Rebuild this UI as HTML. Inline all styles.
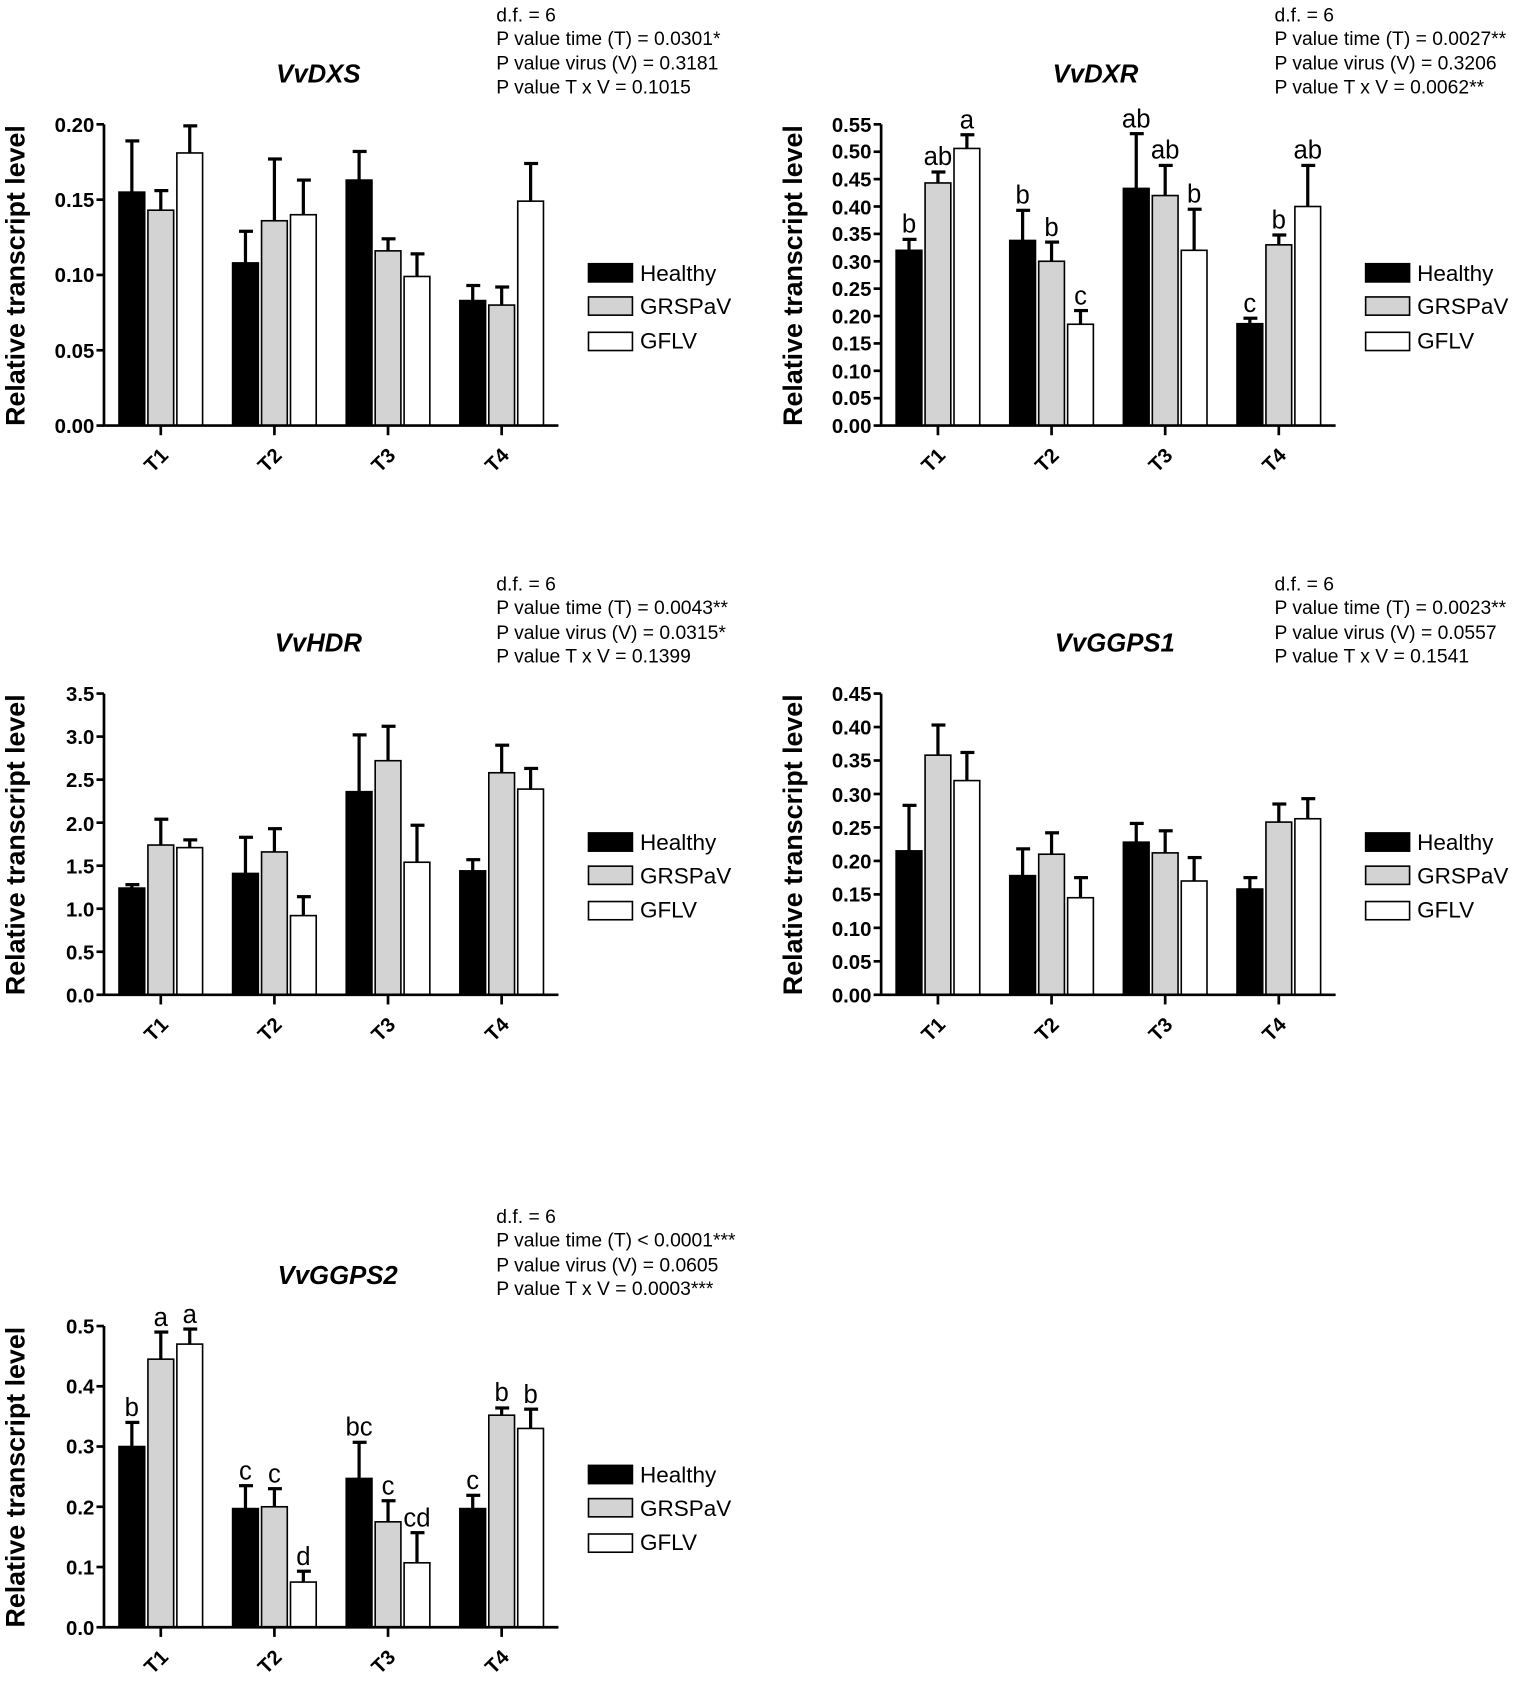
<!DOCTYPE html>
<html><head><meta charset="utf-8"><style>
html,body{margin:0;padding:0;background:#fff}
svg{display:block}
.t{font-family:"Liberation Sans",sans-serif;font-weight:bold;font-size:19px;text-anchor:end}
.yl{font-family:"Liberation Sans",sans-serif;font-weight:bold;font-size:25px;text-anchor:middle}
.ti{font-family:"Liberation Sans",sans-serif;font-weight:bold;font-style:italic;font-size:24px;text-anchor:middle}
.st{font-family:"Liberation Sans",sans-serif;font-size:18px}
.lg{font-family:"Liberation Sans",sans-serif;font-size:21px}
.xl{font-family:"Liberation Sans",sans-serif;font-weight:bold;font-size:19px;text-anchor:end}
.le{font-family:"Liberation Sans",sans-serif;font-size:24px;text-anchor:middle}
</style></head><body>
<svg id="s" width="1535" height="1683" viewBox="0 0 1432 1570" preserveAspectRatio="none" xmlns="http://www.w3.org/2000/svg">
<g id="bars"></g>

<!-- Panel 1 VvDXS -->
<text class="st" x="463" y="20">d.f. = 6</text>
<text class="st" x="463" y="42">P value time (T) = 0.0301*</text>
<text class="st" x="463" y="65">P value virus (V) = 0.3181</text>
<text class="st" x="463" y="87">P value T x V = 0.1015</text>
<text class="ti" x="297" y="77">VvDXS</text>
<text class="yl" transform="translate(23,257) rotate(-90)">Relative transcript level</text>
<text class="t" x="88" y="123">0.20</text><text class="t" x="88" y="193">0.15</text><text class="t" x="88" y="263">0.10</text><text class="t" x="88" y="334">0.05</text><text class="t" x="88" y="404">0.00</text>
<text class="xl" transform="translate(158,426) rotate(-45)">T1</text>
<text class="xl" transform="translate(264,426) rotate(-45)">T2</text>
<text class="xl" transform="translate(370,426) rotate(-45)">T3</text>
<text class="xl" transform="translate(476,426) rotate(-45)">T4</text>
<text class="lg" x="597" y="262">Healthy</text><text class="lg" x="597" y="293">GRSPaV</text><text class="lg" x="597" y="325">GFLV</text>

<!-- Panel 2 VvDXR -->
<text class="st" x="1189" y="20">d.f. = 6</text>
<text class="st" x="1189" y="42">P value time (T) = 0.0027**</text>
<text class="st" x="1189" y="65">P value virus (V) = 0.3206</text>
<text class="st" x="1189" y="87">P value T x V = 0.0062**</text>
<text class="ti" x="1022" y="77">VvDXR</text>
<text class="yl" transform="translate(748,257) rotate(-90)">Relative transcript level</text>
<text class="t" x="813" y="123">0.55</text><text class="t" x="813" y="148">0.50</text><text class="t" x="813" y="174">0.45</text><text class="t" x="813" y="200">0.40</text><text class="t" x="813" y="225">0.35</text><text class="t" x="813" y="251">0.30</text><text class="t" x="813" y="276">0.25</text><text class="t" x="813" y="302">0.20</text><text class="t" x="813" y="327">0.15</text><text class="t" x="813" y="353">0.10</text><text class="t" x="813" y="378">0.05</text><text class="t" x="813" y="404">0.00</text>
<text class="xl" transform="translate(883,426) rotate(-45)">T1</text>
<text class="xl" transform="translate(989,426) rotate(-45)">T2</text>
<text class="xl" transform="translate(1095,426) rotate(-45)">T3</text>
<text class="xl" transform="translate(1201,426) rotate(-45)">T4</text>
<text class="lg" x="1322" y="262">Healthy</text><text class="lg" x="1322" y="293">GRSPaV</text><text class="lg" x="1322" y="325">GFLV</text>
<text class="le" x="848" y="217">b</text><text class="le" x="875" y="154">ab</text><text class="le" x="902" y="120">a</text>
<text class="le" x="954" y="190">b</text><text class="le" x="981" y="220">b</text><text class="le" x="1008" y="284">c</text>
<text class="le" x="1060" y="119">ab</text><text class="le" x="1087" y="148">ab</text><text class="le" x="1114" y="189">b</text>
<text class="le" x="1166" y="291">c</text><text class="le" x="1193" y="213">b</text><text class="le" x="1220" y="148">ab</text>

<!-- Panel 3 VvHDR -->
<text class="st" x="463" y="551">d.f. = 6</text>
<text class="st" x="463" y="573">P value time (T) = 0.0043**</text>
<text class="st" x="463" y="596">P value virus (V) = 0.0315*</text>
<text class="st" x="463" y="618">P value T x V = 0.1399</text>
<text class="ti" x="297" y="608">VvHDR</text>
<text class="yl" transform="translate(23,788) rotate(-90)">Relative transcript level</text>
<text class="t" x="88" y="654">3.5</text><text class="t" x="88" y="694">3.0</text><text class="t" x="88" y="734">2.5</text><text class="t" x="88" y="775">2.0</text><text class="t" x="88" y="815">1.5</text><text class="t" x="88" y="855">1.0</text><text class="t" x="88" y="895">0.5</text><text class="t" x="88" y="935">0.0</text>
<text class="xl" transform="translate(158,957) rotate(-45)">T1</text>
<text class="xl" transform="translate(264,957) rotate(-45)">T2</text>
<text class="xl" transform="translate(370,957) rotate(-45)">T3</text>
<text class="xl" transform="translate(476,957) rotate(-45)">T4</text>
<text class="lg" x="597" y="793">Healthy</text><text class="lg" x="597" y="824">GRSPaV</text><text class="lg" x="597" y="856">GFLV</text>

<!-- Panel 4 VvGGPS1 -->
<text class="st" x="1189" y="551">d.f. = 6</text>
<text class="st" x="1189" y="573">P value time (T) = 0.0023**</text>
<text class="st" x="1189" y="596">P value virus (V) = 0.0557</text>
<text class="st" x="1189" y="618">P value T x V = 0.1541</text>
<text class="ti" x="1040" y="608">VvGGPS1</text>
<text class="yl" transform="translate(748,788) rotate(-90)">Relative transcript level</text>
<text class="t" x="813" y="654">0.45</text><text class="t" x="813" y="685">0.40</text><text class="t" x="813" y="716">0.35</text><text class="t" x="813" y="748">0.30</text><text class="t" x="813" y="779">0.25</text><text class="t" x="813" y="810">0.20</text><text class="t" x="813" y="841">0.15</text><text class="t" x="813" y="873">0.10</text><text class="t" x="813" y="904">0.05</text><text class="t" x="813" y="935">0.00</text>
<text class="xl" transform="translate(883,957) rotate(-45)">T1</text>
<text class="xl" transform="translate(989,957) rotate(-45)">T2</text>
<text class="xl" transform="translate(1095,957) rotate(-45)">T3</text>
<text class="xl" transform="translate(1201,957) rotate(-45)">T4</text>
<text class="lg" x="1322" y="793">Healthy</text><text class="lg" x="1322" y="824">GRSPaV</text><text class="lg" x="1322" y="856">GFLV</text>

<!-- Panel 5 VvGGPS2 -->
<text class="st" x="463" y="1141">d.f. = 6</text>
<text class="st" x="463" y="1163">P value time (T) &lt; 0.0001***</text>
<text class="st" x="463" y="1186">P value virus (V) = 0.0605</text>
<text class="st" x="463" y="1208">P value T x V = 0.0003***</text>
<text class="ti" x="315" y="1198">VvGGPS2</text>
<text class="yl" transform="translate(23,1378) rotate(-90)">Relative transcript level</text>
<text class="t" x="88" y="1244">0.5</text><text class="t" x="88" y="1300">0.4</text><text class="t" x="88" y="1356">0.3</text><text class="t" x="88" y="1413">0.2</text><text class="t" x="88" y="1469">0.1</text><text class="t" x="88" y="1525">0.0</text>
<text class="xl" transform="translate(158,1547) rotate(-45)">T1</text>
<text class="xl" transform="translate(264,1547) rotate(-45)">T2</text>
<text class="xl" transform="translate(370,1547) rotate(-45)">T3</text>
<text class="xl" transform="translate(476,1547) rotate(-45)">T4</text>
<text class="lg" x="597" y="1383">Healthy</text><text class="lg" x="597" y="1414">GRSPaV</text><text class="lg" x="597" y="1446">GFLV</text>
<text class="le" x="123" y="1321">b</text><text class="le" x="150" y="1237">a</text><text class="le" x="177" y="1234">a</text>
<text class="le" x="229" y="1380">c</text><text class="le" x="256" y="1383">c</text><text class="le" x="283" y="1460">d</text>
<text class="le" x="335" y="1339">bc</text><text class="le" x="362" y="1394">c</text><text class="le" x="389" y="1424">cd</text>
<text class="le" x="441" y="1389">c</text><text class="le" x="468" y="1307">b</text><text class="le" x="495" y="1309">b</text>
</svg>
<script>
(function(){
var NS="http://www.w3.org/2000/svg",g=document.getElementById("bars");
function el(n,a){var e=document.createElementNS(NS,n);for(var k in a)e.setAttribute(k,a[k]);g.appendChild(e);}
var fills=["#000","#d3d3d3","#fff"];
var P=[
 {dx:0,base:397,max:0.20,step:0.05,d:[[.155,.034,.143,.013,.181,.018],[.108,.021,.136,.041,.140,.023],[.163,.019,.116,.008,.099,.015],[.083,.010,.080,.012,.149,.025]]},
 {dx:725,base:397,max:0.55,step:0.05,d:[[.32,.02,.443,.02,.506,.025],[.338,.055,.30,.035,.185,.025],[.433,.10,.42,.055,.32,.075],[.186,.01,.33,.018,.40,.075]]},
 {dx:0,base:928,max:3.5,step:0.5,d:[[1.24,.04,1.74,.30,1.71,.09],[1.41,.42,1.66,.27,.92,.22],[2.36,.66,2.72,.40,1.54,.43],[1.44,.13,2.58,.32,2.39,.24]]},
 {dx:725,base:928,max:0.45,step:0.05,d:[[.215,.068,.358,.045,.32,.042],[.178,.04,.21,.032,.145,.03],[.228,.028,.212,.033,.17,.035],[.158,.017,.258,.027,.263,.03]]},
 {dx:0,base:1518,max:0.5,step:0.1,d:[[.30,.04,.445,.045,.47,.025],[.197,.038,.20,.03,.075,.018],[.247,.06,.175,.035,.107,.05],[.197,.022,.352,.012,.33,.032]]}
];
var centers=[150,256,362,468];
P.forEach(function(p){
 var sc=281/p.max,ax=97+p.dx,b=p.base;
 for(var i=0;i<4;i++){for(var j=0;j<3;j++){
  var v=p.d[i][j*2],e=p.d[i][j*2+1],cx=centers[i]+p.dx+(j-1)*27,top=b-v*sc,et=b-(v+e)*sc;
  el("line",{x1:cx,x2:cx,y1:top,y2:et,stroke:"#000","stroke-width":3});
  el("line",{x1:cx-6,x2:cx+7,y1:et,y2:et,stroke:"#000","stroke-width":3});
  el("rect",{x:cx-12,y:top,width:24,height:v*sc,fill:fills[j],stroke:"#000","stroke-width":1.5});
 }
 el("line",{x1:centers[i]+p.dx,x2:centers[i]+p.dx,y1:b,y2:b+9,stroke:"#000","stroke-width":2.5});}
 var n=Math.round(p.max/p.step);
 for(var k=0;k<=n;k++){var y=b-k*p.step*sc;el("line",{x1:ax-7,x2:ax,y1:y,y2:y,stroke:"#000","stroke-width":2.5});}
 el("line",{x1:ax,x2:ax,y1:b-281,y2:b+1,stroke:"#000","stroke-width":2.5});
 el("line",{x1:ax,x2:ax+424,y1:b,y2:b,stroke:"#000","stroke-width":2.5});
 var ly=[246,277,310],off=b-397;
 for(var j=0;j<3;j++)el("rect",{x:549+p.dx,y:ly[j]+off,width:41,height:17,fill:fills[j],stroke:"#000","stroke-width":1.5});
});
})();
</script>
</body></html>
